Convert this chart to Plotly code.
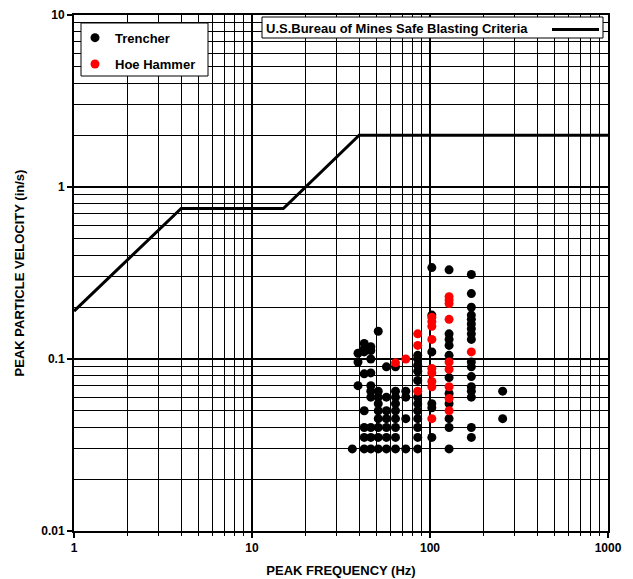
import plotly.graph_objects as go

# ---------------- data ----------------
trencher_freq = (
    [36.6]
    + [39.4] * 3
    + [42.7] * 8
    + [46.5] * 10
    + [51.2] * 9
    + [56.9] * 7
    + [64.0] * 9
    + [73.1] * 4
    + [85.3] * 12
    + [102.4] * 6
    + [128.0] * 11
    + [170.7] * 17
    + [256.0] * 2
)
trencher_vel = (
    [0.03]
    + [0.108, 0.096, 0.07]
    + [0.123, 0.115, 0.11, 0.082, 0.05, 0.04, 0.035, 0.03]
    + [0.118, 0.112, 0.1, 0.083, 0.07, 0.065, 0.06, 0.04, 0.035, 0.03]
    + [0.145, 0.065, 0.06, 0.055, 0.05, 0.045, 0.04, 0.035, 0.03]
    + [0.09, 0.06, 0.05, 0.045, 0.04, 0.035, 0.03]
    + [0.09, 0.065, 0.06, 0.055, 0.05, 0.045, 0.04, 0.035, 0.03]
    + [0.065, 0.06, 0.045, 0.03]
    + [0.105, 0.1, 0.092, 0.085, 0.075, 0.06, 0.055, 0.05, 0.045, 0.04, 0.035, 0.03]
    + [0.34, 0.18, 0.11, 0.055, 0.052, 0.035]
    + [0.33, 0.14, 0.13, 0.12, 0.105, 0.078, 0.063, 0.055, 0.045, 0.04, 0.03]
    + [0.31, 0.24, 0.2, 0.18, 0.17, 0.16, 0.15, 0.14, 0.13, 0.096, 0.09, 0.079,
       0.069, 0.065, 0.06, 0.04, 0.035]
    + [0.065, 0.045]
)

hoe_freq = (
    [64.0]
    + [73.1]
    + [85.3] * 3
    + [102.4] * 9
    + [128.0] * 9
    + [170.7]
)
hoe_vel = (
    [0.095]
    + [0.1]
    + [0.14, 0.12, 0.065]
    + [0.175, 0.165, 0.155, 0.13, 0.088, 0.083, 0.074, 0.069, 0.045]
    + [0.23, 0.22, 0.21, 0.17, 0.096, 0.087, 0.069, 0.059, 0.05]
    + [0.11]
)

usbm_freq = [1, 4, 15, 40, 1000]
usbm_vel = [0.19, 0.75, 0.75, 2.0, 2.0]

x_ticks = [1, 10, 100, 1000]
x_tick_labels = ["1", "10", "100", "1000"]
y_ticks = [0.01, 0.1, 1, 10]
y_tick_labels = ["0.01", "0.1", "1", "10"]

x_minor = [m * 10 ** e for e in range(0, 3) for m in range(2, 10)]
y_minor = [m * 10 ** e for e in range(-2, 1) for m in range(2, 10)]

FONT = "Arial, Liberation Sans, sans-serif"

# ---------------- figure ----------------
fig = go.Figure()

fig.add_trace(go.Scatter(
    x=usbm_freq, y=usbm_vel, mode="lines",
    line=dict(color="black", width=3),
    name="U.S.Bureau of Mines Safe Blasting Criteria",
    showlegend=False,
))
fig.add_trace(go.Scatter(
    x=trencher_freq, y=trencher_vel, mode="markers",
    marker=dict(color="black", size=9),
    name="Trencher", legend="legend",
))
fig.add_trace(go.Scatter(
    x=hoe_freq, y=hoe_vel, mode="markers",
    marker=dict(color="red", size=9),
    name="Hoe Hammer", legend="legend2",
))

W, H = 633, 579
L, R, T, B = 74, 25, 15, 48
pw, ph = W - L - R, H - T - B


def px_x(x):
    return (x - L) / pw


def px_y(y):
    return (H - B - y) / ph


axis_common = dict(
    type="log", automargin=False,
    showline=True, linecolor="black", linewidth=2, mirror=True,
    showgrid=True, gridcolor="black", gridwidth=2,
    ticks="outside", ticklen=5, tickwidth=2, tickcolor="black",
    tickfont=dict(family=FONT, size=12, color="black", weight="bold"),
    zeroline=False,
)

fig.update_xaxes(
    **axis_common,
    range=[0, 3],
    tickmode="array", tickvals=x_ticks, ticktext=x_tick_labels,
    minor=dict(tickmode="array", tickvals=x_minor, showgrid=True,
               gridcolor="black", gridwidth=1,
               ticks="outside", ticklen=3, tickcolor="black", tickwidth=1),
    title=dict(text="PEAK FREQUENCY (Hz)", standoff=11,
               font=dict(family=FONT, size=13, color="black", weight="bold")),
)
fig.update_yaxes(
    **axis_common,
    range=[-2, 1],
    tickmode="array", tickvals=y_ticks, ticktext=y_tick_labels,
    minor=dict(tickmode="array", tickvals=y_minor, showgrid=True,
               gridcolor="black", gridwidth=1, ticks=""),
    title=dict(text="PEAK PARTICLE VELOCITY (in/s)", standoff=14,
               font=dict(family=FONT, size=13, color="black", weight="bold")),
)

legend_font = dict(family=FONT, size=13, color="black", weight="bold")
fig.update_layout(
    width=W, height=H,
    margin=dict(l=L, r=R, t=T, b=B, autoexpand=False),
    paper_bgcolor="white", plot_bgcolor="white",
    legend=dict(x=px_x(75), y=px_y(37.7), xanchor="left", yanchor="middle",
                bgcolor="rgba(0,0,0,0)", borderwidth=0, font=legend_font),
    legend2=dict(x=px_x(75), y=px_y(64), xanchor="left", yanchor="middle",
                 bgcolor="rgba(0,0,0,0)", borderwidth=0, font=legend_font),
    shapes=[
        # legend box for data series
        dict(type="rect", xref="paper", yref="paper", layer="above",
             x0=px_x(81), x1=px_x(208), y0=px_y(76), y1=px_y(23),
             line=dict(color="black", width=1), fillcolor="white"),
        # legend box for criteria line
        dict(type="rect", xref="paper", yref="paper", layer="above",
             x0=px_x(262), x1=px_x(603), y0=px_y(38), y1=px_y(17),
             line=dict(color="black", width=1), fillcolor="white"),
        dict(type="line", xref="paper", yref="paper", layer="above",
             x0=px_x(552), x1=px_x(599), y0=px_y(29.5), y1=px_y(29.5),
             line=dict(color="black", width=3)),
    ],
    annotations=[
        dict(text="U.S.Bureau of Mines Safe Blasting Criteria",
             xref="paper", yref="paper", x=px_x(264), y=px_y(28.5),
             xanchor="left", yanchor="middle", showarrow=False,
             font=legend_font),
    ],
)

fig.write_html("out.html")
